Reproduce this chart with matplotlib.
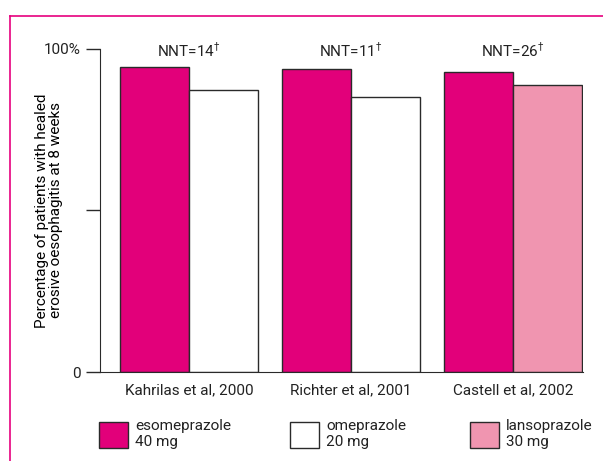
import numpy as np
import matplotlib.pyplot as plt
from matplotlib.patches import Patch
from matplotlib.lines import Line2D

plt.rcParams['font.family'] = ['Roboto', 'DejaVu Sans']
plt.rcParams['text.color'] = '#222222'
plt.rcParams['xtick.labelcolor'] = '#222222'
plt.rcParams['ytick.labelcolor'] = '#222222'
fs = 11

# data
studies = ['Kahrilas et al, 2000', 'Richter et al, 2001', 'Castell et al, 2002']
nnt = ['14', '11', '26']
esomeprazole = [94.3, 93.9, 92.9]
comparator = [87.2, 85.2, 89.0]
comparator_drug = ['omeprazole', 'omeprazole', 'lansoprazole']

magenta = '#E2007A'
pink = '#F095B0'
edge = '#2a2a2a'
colors = {'omeprazole': 'white', 'lansoprazole': pink}

fig = plt.figure(figsize=(6.03, 4.61), dpi=100)
ax = fig.add_axes([100/603, 89/461, 483/603, 323/461])

x = np.arange(len(studies))
w = 0.427
ax.bar(x - w/2, esomeprazole, width=w, color=magenta, edgecolor=edge, linewidth=1)
ax.bar(x + w/2, comparator, width=w,
       color=[colors[d] for d in comparator_drug], edgecolor=edge, linewidth=1)

for xi, n in zip(x, nnt):
    ax.text(xi, 97.6, 'NNT=' + n + r'$^{\dagger}$', ha='center', va='baseline', fontsize=fs)

ax.set_xlim(-0.551, 2.433)
ax.set_ylim(0, 100)
ax.set_yticks([0, 50, 100])
ax.set_yticklabels(['0', '', '100%'], fontsize=fs)
ax.set_xticks(x)
ax.set_xticklabels(studies, fontsize=fs)
ax.tick_params(axis='y', length=10, width=1, color=edge, pad=4)
ax.tick_params(axis='x', length=0, pad=8)
ax.spines['top'].set_visible(False)
ax.spines['right'].set_visible(False)
for s in ['left', 'bottom']:
    ax.spines[s].set_color(edge)
ax.set_ylabel('Percentage of patients with healed\nerosive oesophagitis at 8 weeks',
              fontsize=fs, linespacing=1.05)
ax.yaxis.set_label_coords(-0.076, 0.5)

# legend, one box per drug
entries = [(magenta, 'esomeprazole\n40 mg', 101), ('white', 'omeprazole\n20 mg', 292), (pink, 'lansoprazole\n30 mg', 472)]
for c, lab, px in entries:
    fig.legend(handles=[Patch(facecolor=c, edgecolor=edge, linewidth=1)], labels=[lab],
               loc='upper left', bbox_to_anchor=(px/603 - 0.013, 1 - 413/461),
               frameon=False, fontsize=fs, handlelength=1.9,
               handleheight=2.2, handletextpad=0.45, borderaxespad=0)

# pink frame
fig.add_artist(Line2D([10/603, 1], [1 - 16/461, 1 - 16/461], color='#E6007E', lw=1.2))
fig.add_artist(Line2D([10/603, 10/603], [0, 1 - 16/461], color='#E6007E', lw=1.2))

fig.savefig('out.png', dpi=100)
